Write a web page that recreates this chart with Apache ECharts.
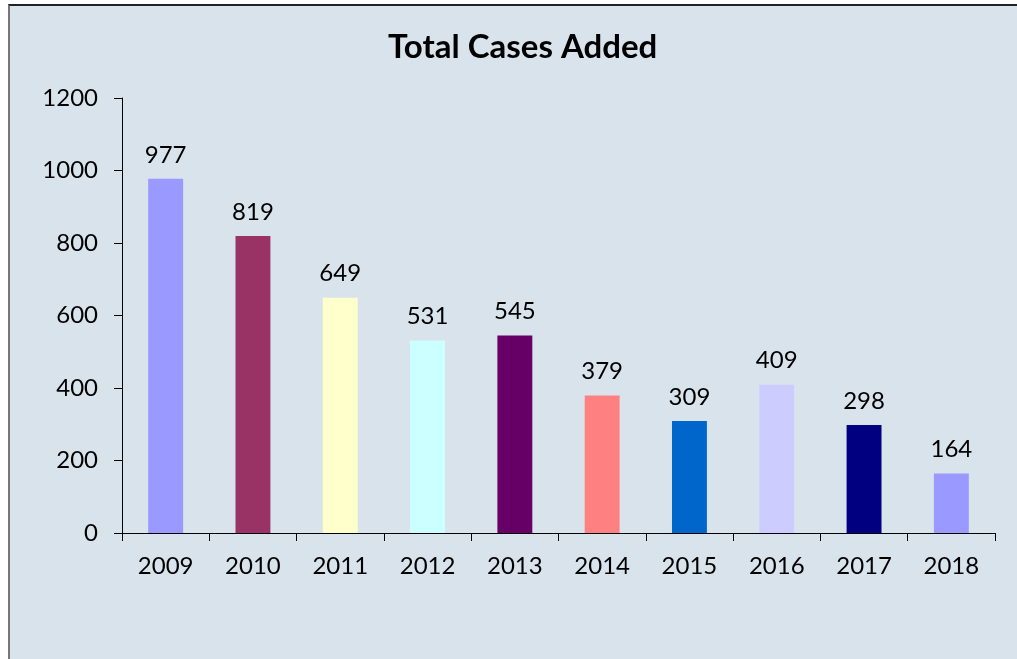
<!DOCTYPE html>
<html><head><meta charset="utf-8">
<script src="https://cdn.jsdelivr.net/npm/echarts@6/dist/echarts.min.js"></script>
<style>
html,body{margin:0;padding:0;background:#fff;}
#bg{position:absolute;left:8px;top:4px;width:1009px;height:655px;background:#d9e3ec;border-top:2px solid #222;border-left:2px solid #777;box-sizing:border-box;}
#chart{position:absolute;left:0;top:0;width:1017px;height:659px;}
</style></head>
<body>
<div id="bg"></div>
<div id="chart"></div>
<script>
const categories = ['2009','2010','2011','2012','2013','2014','2015','2016','2017','2018'];
const values = [977, 819, 649, 531, 545, 379, 309, 409, 298, 164];
const barColors = ['#9999ff','#993366','#ffffcc','#ccffff','#660066','#ff8080','#0066cc','#ccccff','#000080','#9999ff'];
const titleText = 'Total Cases Added';

const chart = echarts.init(document.getElementById('chart'), null, {renderer:'canvas'});
const font = 'Lato';
chart.setOption({
  backgroundColor: 'transparent',
  animation: false,
  title: {
    text: titleText, left: 383, top: 26,
    textStyle: {fontFamily: font, fontWeight: 'bold', fontSize: 33, color: '#000'}
  },
  grid: {left: 122, right: 22, top: 98, bottom: 126, containLabel: false},
  xAxis: {
    type: 'category', data: categories,
    axisLine: {lineStyle: {color: '#000', width: 1}},
    axisTick: {show: true, alignWithLabel: false, length: 8, lineStyle: {color: '#000'}},
    axisLabel: {fontFamily: font, fontSize: 24, color: '#000', margin: 21}
  },
  yAxis: {
    type: 'value', min: 0, max: 1200, interval: 200,
    axisLine: {show: true, lineStyle: {color: '#000', width: 1}},
    axisTick: {show: true, length: 8, lineStyle: {color: '#000'}},
    splitLine: {show: false},
    axisLabel: {fontFamily: font, fontSize: 24, color: '#000', margin: 24, formatter: v => String(v)}
  },
  series: [{
    type: 'bar',
    data: values.map((v, i) => ({value: v, itemStyle: {color: barColors[i]}})),
    barWidth: '40%',
    label: {show: true, position: 'top', distance: 12, fontFamily: font, fontSize: 24, color: '#000'}
  }]
});
</script>
</body></html>
